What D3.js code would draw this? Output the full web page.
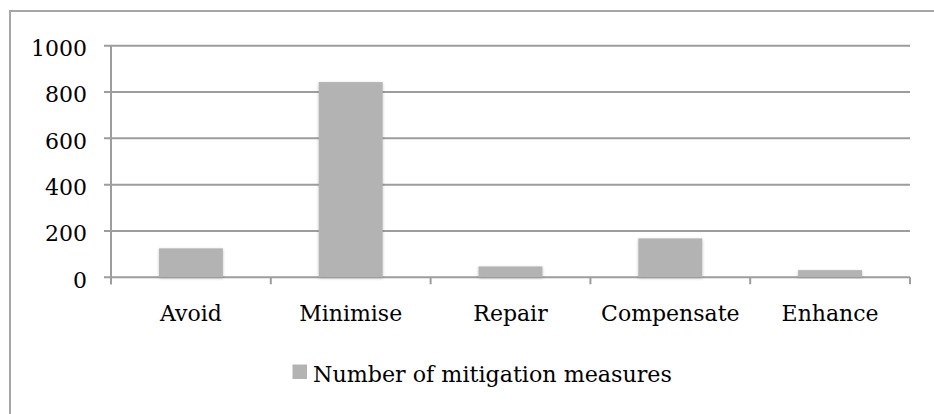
<!DOCTYPE html>
<html><head><meta charset="utf-8">
<script src="https://cdn.jsdelivr.net/npm/d3@7"></script>
<style>
html,body{margin:0;padding:0;background:#fff;}
svg{display:block;}
</style></head>
<body>
<script>
const categories = ["Avoid","Minimise","Repair","Compensate","Enhance"];
const values = [125, 843, 47, 168, 31];
const yTicks = [0,200,400,600,800,1000];
const seriesName = "Number of mitigation measures";

(function(){
const W = 934, H = 414;
const FONT = "'DejaVu Serif', serif";
const svg = d3.select("body").append("svg").attr("width", W).attr("height", H)
  .attr("font-family", FONT);

const defs = svg.append("defs");
const f = defs.append("filter").attr("id","sh").attr("x","-20%").attr("y","-20%").attr("width","140%").attr("height","140%");
f.append("feGaussianBlur").attr("in","SourceAlpha").attr("stdDeviation",1.5).attr("result","b");
f.append("feOffset").attr("in","b").attr("dx",0).attr("dy",1).attr("result","o");
f.append("feComponentTransfer").attr("in","o").attr("result","o2").append("feFuncA").attr("type","linear").attr("slope",0.25);
const m = f.append("feMerge"); m.append("feMergeNode").attr("in","o2"); m.append("feMergeNode").attr("in","SourceGraphic");

svg.append("rect").attr("x",10).attr("y",11).attr("width",940).attr("height",420)
  .attr("fill","none").attr("stroke","#a6a6a6").attr("stroke-width",2);

const pl = 111, pr = 910, pt = 45.7, pb = 277.3;
const x = d3.scaleBand().domain(categories).range([pl,pr]).paddingInner(0.6).paddingOuter(0.3);
const y = d3.scaleLinear().domain([0,1000]).range([pb,pt]);

svg.append("g").selectAll("line").data(yTicks).join("line")
  .attr("x1",104).attr("x2",pr).attr("y1",d=>y(d)).attr("y2",d=>y(d))
  .attr("stroke","#9d9d9d").attr("stroke-width",2);

svg.append("line").attr("x1",pl).attr("x2",pl).attr("y1",pt).attr("y2",pb+7)
  .attr("stroke","#9d9d9d").attr("stroke-width",2);

const xb = d3.scaleLinear().domain([0,categories.length]).range([pl,pr]);
svg.append("g").selectAll("line").data(d3.range(categories.length+1)).join("line")
  .attr("x1",d=>xb(d)).attr("x2",d=>xb(d)).attr("y1",pb).attr("y2",pb+7)
  .attr("stroke","#9d9d9d").attr("stroke-width",2);

svg.append("g").selectAll("rect").data(values).join("rect")
  .attr("x",(d,i)=>x(categories[i])).attr("width",x.bandwidth())
  .attr("y",d=>y(d)).attr("height",d=>pb-y(d))
  .attr("fill","#b3b3b3").attr("filter","url(#sh)");

svg.append("g").selectAll("text").data(yTicks).join("text")
  .attr("x",87).attr("y",d=>y(d)+2.5).attr("dy","0.35em").attr("text-anchor","end")
  .attr("font-size",22).text(d=>d);

svg.append("g").selectAll("text").data(categories).join("text")
  .attr("x",d=>x(d)+x.bandwidth()/2).attr("y",321).attr("text-anchor","middle")
  .attr("font-size",22).text(d=>d);

svg.append("rect").attr("x",292.5).attr("y",364.5).attr("width",14.5).attr("height",14.5).attr("fill","#b3b3b3");
svg.append("text").attr("x",313).attr("y",382).attr("font-size",22.2).text(seriesName);
})();
</script>
</body></html>
